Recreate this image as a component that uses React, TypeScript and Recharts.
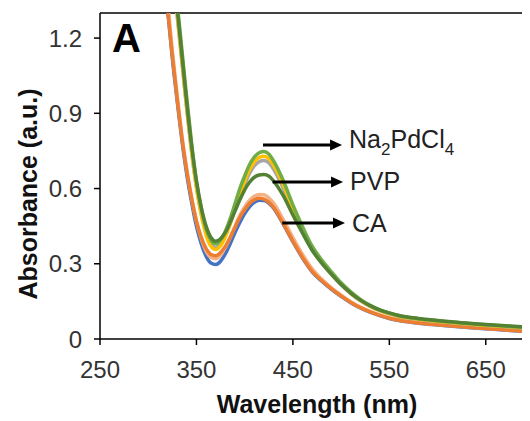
import { Label, Line, LineChart, ReferenceLine, XAxis, YAxis } from 'recharts'

const font = '"Liberation Sans", Arial, sans-serif'

const wavelengths = [
  300, 310, 315, 320, 325, 330, 335, 340, 345, 350, 355, 360, 365, 370, 375, 380, 385, 390, 395, 400, 405, 410, 415,
  420, 425, 430, 440, 450, 460, 470, 480, 490, 500, 510, 520, 530, 540, 550, 560, 580, 600, 625, 650, 675, 700,
]

const blue = [
  2.3, 1.8, 1.55, 1.32, 1.12, 0.95, 0.79, 0.655, 0.545, 0.45, 0.38, 0.33, 0.303, 0.297, 0.31, 0.34, 0.38, 0.425, 0.465,
  0.5, 0.527, 0.545, 0.553, 0.552, 0.542, 0.522, 0.458, 0.388, 0.323, 0.268, 0.23, 0.198, 0.17, 0.145, 0.124, 0.107,
  0.093, 0.082, 0.074, 0.063, 0.056, 0.048, 0.041, 0.034, 0.028,
]
const salmon = [
  2.35, 1.84, 1.58, 1.35, 1.15, 0.97, 0.81, 0.675, 0.565, 0.47, 0.4, 0.35, 0.325, 0.32, 0.335, 0.365, 0.405, 0.45, 0.493,
  0.527, 0.553, 0.569, 0.576, 0.575, 0.563, 0.542, 0.476, 0.404, 0.337, 0.28, 0.238, 0.204, 0.175, 0.149, 0.127, 0.11,
  0.096, 0.085, 0.077, 0.065, 0.058, 0.05, 0.043, 0.036, 0.03,
]
const orange = [
  2.3, 1.8, 1.55, 1.32, 1.13, 0.96, 0.8, 0.67, 0.56, 0.47, 0.405, 0.36, 0.337, 0.332, 0.345, 0.37, 0.405, 0.445, 0.485,
  0.515, 0.54, 0.555, 0.561, 0.558, 0.546, 0.525, 0.46, 0.39, 0.325, 0.27, 0.232, 0.2, 0.172, 0.146, 0.125, 0.108,
  0.094, 0.083, 0.075, 0.064, 0.057, 0.049, 0.042, 0.035, 0.029,
]
const gray = [
  2.55, 2.1, 1.86, 1.65, 1.45, 1.29, 1.1, 0.915, 0.745, 0.605, 0.5, 0.423, 0.378, 0.365, 0.378, 0.412, 0.46, 0.515, 0.57,
  0.617, 0.66, 0.69, 0.707, 0.712, 0.703, 0.677, 0.602, 0.51, 0.428, 0.355, 0.302, 0.257, 0.216, 0.181, 0.152, 0.13,
  0.113, 0.1, 0.09, 0.078, 0.07, 0.061, 0.054, 0.048, 0.042,
]
const gold = [
  2.55, 2.1, 1.87, 1.66, 1.46, 1.3, 1.11, 0.92, 0.75, 0.605, 0.495, 0.415, 0.37, 0.357, 0.372, 0.408, 0.46, 0.52, 0.58,
  0.63, 0.675, 0.706, 0.724, 0.729, 0.72, 0.693, 0.615, 0.52, 0.436, 0.36, 0.306, 0.26, 0.218, 0.183, 0.154, 0.131,
  0.114, 0.101, 0.091, 0.079, 0.071, 0.062, 0.055, 0.049, 0.043,
]
const green = [
  2.6, 2.15, 1.92, 1.7, 1.5, 1.34, 1.15, 0.96, 0.78, 0.63, 0.52, 0.44, 0.395, 0.38, 0.395, 0.43, 0.48, 0.54, 0.6, 0.65,
  0.695, 0.725, 0.743, 0.748, 0.738, 0.71, 0.632, 0.535, 0.448, 0.37, 0.315, 0.268, 0.224, 0.188, 0.158, 0.134, 0.116,
  0.103, 0.093, 0.081, 0.073, 0.064, 0.057, 0.05, 0.044,
]
const darkGreen = [
  2.6, 2.15, 1.91, 1.68, 1.48, 1.32, 1.13, 0.94, 0.77, 0.63, 0.525, 0.45, 0.405, 0.39, 0.4, 0.425, 0.465, 0.51, 0.555,
  0.595, 0.625, 0.645, 0.654, 0.656, 0.65, 0.63, 0.572, 0.495, 0.422, 0.354, 0.302, 0.258, 0.217, 0.183, 0.155, 0.133,
  0.116, 0.104, 0.094, 0.082, 0.074, 0.065, 0.058, 0.052, 0.046,
]

const series = [
  { key: 'blue', values: blue, color: '#4472C4' },
  { key: 'salmon', values: salmon, color: '#F4B183' },
  { key: 'orange', values: orange, color: '#ED7D31' },
  { key: 'gray', values: gray, color: '#A5A5A5' },
  { key: 'gold', values: gold, color: '#FFC000' },
  { key: 'green', values: green, color: '#70AD47' },
  { key: 'darkGreen', values: darkGreen, color: '#548235' },
]

const xTicks = [250, 350, 450, 550, 650]
const yTicks = [0, 0.3, 0.6, 0.9, 1.2]

const rows = wavelengths.map((wl, i) => {
  const r: Record<string, number> = { wl }
  series.forEach((s) => (r[s.key] = s.values[i]))
  return r
})

// annotation arrows: [x1, x2, y] in data units, label and baseline offset
const arrows = [
  { x1: 419, x2: 501, y: 0.774, label: 'Na2PdCl4', dy: 3 },
  { x1: 429, x2: 502, y: 0.626, label: 'PVP', dy: 8 },
  { x1: 439, x2: 504, y: 0.463, label: 'CA', dy: 9 },
]

function arrowShape(label: string, dy: number) {
  return (p: any) => {
    const { x1, y1, x2, y2 } = p
    const text =
      label === 'Na2PdCl4' ? (
        <>
          <tspan>Na</tspan>
          <tspan dy={7} fontSize={17}>2</tspan>
          <tspan dy={-7}>PdCl</tspan>
          <tspan dy={7} fontSize={17}>4</tspan>
        </>
      ) : (
        label
      )
    return (
      <g>
        <line x1={x1} y1={y1} x2={x2 - 9} y2={y2} stroke="#000" strokeWidth={3} />
        <polygon points={`${x2},${y2} ${x2 - 12},${y2 - 5.5} ${x2 - 12},${y2 + 5.5}`} fill="#000" />
        <text x={x2 + 7} y={y2 + dy} fontSize={25} fontFamily={font} fill="#222">
          {text}
        </text>
      </g>
    )
  }
}

export default function App() {
  return (
    <div style={{ width: 522, height: 413, overflow: 'hidden' }}>
      <LineChart width={526} height={413} data={rows} margin={{ top: 5, right: 0, bottom: 0, left: 0 }}>
        <XAxis
          dataKey="wl"
          type="number"
          domain={[250, 700]}
          ticks={xTicks}
          tickSize={6}
          tickMargin={16}
          height={82}
          axisLine={{ stroke: '#000', strokeWidth: 1.5 }}
          tickLine={{ stroke: '#000', strokeWidth: 1.5 }}
          tick={{ fontSize: 24, fill: '#333', fontFamily: font }}
        >
          <Label
            value="Wavelength (nm)"
            position="insideBottom"
            offset={8}
            style={{ fontSize: 25, fontWeight: 'bold', fill: '#111', fontFamily: font }}
          />
        </XAxis>
        <YAxis
          type="number"
          domain={[0, 1.3]}
          allowDataOverflow
          ticks={yTicks}
          width={92}
          tickSize={6}
          tickMargin={12}
          tickFormatter={(v: number) => (v === 0 ? '0' : v.toFixed(1))}
          axisLine={{ stroke: '#000', strokeWidth: 1.5 }}
          tickLine={{ stroke: '#000', strokeWidth: 1.5 }}
          tick={{ fontSize: 24, fill: '#333', fontFamily: font }}
        >
          <Label
            content={() => (
              <text
                x={29}
                y={186}
                transform="rotate(-90, 29, 186)"
                textAnchor="middle"
                fontSize={25}
                fontWeight="bold"
                fill="#111"
                fontFamily={font}
              >
                Absorbance (a.u.)
              </text>
            )}
          />
        </YAxis>
        <ReferenceLine y={1.3} stroke="#000" strokeWidth={1.5} />
        {series.map((s) => (
          <Line
            key={s.key}
            dataKey={s.key}
            type="monotone"
            stroke={s.color}
            strokeWidth={3.5}
            dot={false}
            isAnimationActive={false}
          />
        ))}
        {arrows.map((a) => (
          <ReferenceLine
            key={a.label}
            segment={[
              { x: a.x1, y: a.y },
              { x: a.x2, y: a.y },
            ]}
            shape={arrowShape(a.label, a.dy)}
          />
        ))}
        <text x={104} y={44} fontSize={40} fontWeight="bold" fontFamily={font} fill="#000">
          A
        </text>
      </LineChart>
    </div>
  )
}
